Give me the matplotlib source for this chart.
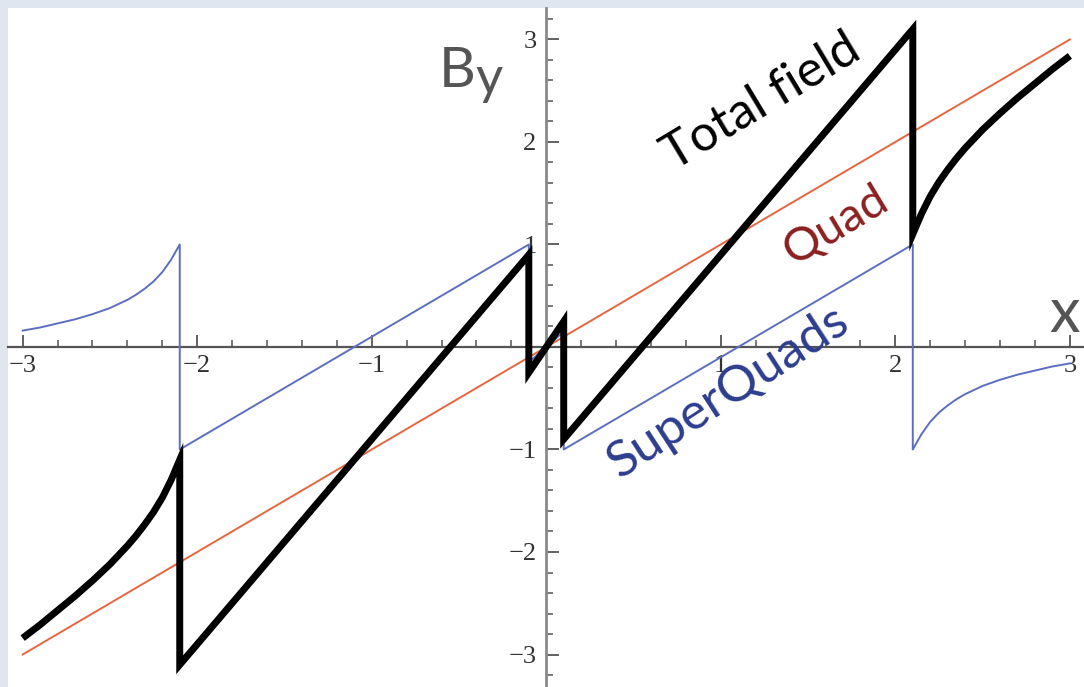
import numpy as np
import matplotlib
matplotlib.use("Agg")
import matplotlib.pyplot as plt
from matplotlib.ticker import MultipleLocator, FixedLocator

# field components along the x axis (values read at the marked x positions)
quad_x = [-3.0, 3.0]
quad_y = [-3.0, 3.0]

superquad_x = [-3.0, -2.9, -2.8, -2.7, -2.6, -2.5, -2.4, -2.35, -2.3, -2.25, -2.2,
               -2.15, -2.1, -2.1, -0.1, -0.1, 0.1, 0.1, 2.1, 2.1, 2.15, 2.2,
               2.25, 2.3, 2.35, 2.4, 2.5, 2.6, 2.7, 2.8, 2.9, 3.0]
superquad_y = [0.16, 0.19, 0.23, 0.27, 0.32, 0.38, 0.46, 0.51, 0.57, 0.64, 0.73,
               0.85, 1.0, -1.0, 1.0, -0.15, 0.15, -1.0, 1.0, -1.0, -0.85, -0.73,
               -0.64, -0.57, -0.51, -0.46, -0.38, -0.32, -0.27, -0.23, -0.19, -0.16]

total_x = superquad_x
total_y = [-2.84, -2.71, -2.57, -2.43, -2.28, -2.12, -1.94, -1.84, -1.73, -1.61, -1.47,
           -1.30, -1.1, -3.1, 0.9, -0.25, 0.25, -0.9, 3.1, 1.1, 1.30, 1.47,
           1.61, 1.73, 1.84, 1.94, 2.12, 2.28, 2.43, 2.57, 2.71, 2.84]

x_ticks = [-3, -2, -1, 1, 2, 3]
y_ticks = [-3, -2, -1, 1, 2, 3]

W, H = 1084, 687
fig = plt.figure(figsize=(W / 100, H / 100), dpi=100, facecolor="#dfe6ef")
ax = fig.add_axes([8 / W, 0, (W - 8) / W, (H - 8) / H])
ax.set_facecolor("white")

ax.plot(quad_x, quad_y, color="#e8663f", lw=1.4, zorder=3)
ax.plot(superquad_x, superquad_y, color="#5b6fc0", lw=1.4, zorder=3)
ax.plot(total_x, total_y, color="black", lw=5.0, zorder=4,
        solid_joinstyle="miter", solid_capstyle="butt")

ax.set_xlim(-3.084, 3.081)
ax.set_ylim(-3.317, 3.307)

# axes through the origin
for side in ["top", "right"]:
    ax.spines[side].set_visible(False)
ax.spines["left"].set_position("zero")
ax.spines["bottom"].set_position("zero")
ax.spines["left"].set_color("#8a8a8a")
ax.spines["left"].set_linewidth(2.0)
ax.spines["bottom"].set_color("#555555")
ax.spines["bottom"].set_linewidth(1.6)
ax.spines["left"].set_zorder(2)
ax.spines["bottom"].set_zorder(2)

ax.xaxis.set_major_locator(FixedLocator(x_ticks))
ax.yaxis.set_major_locator(FixedLocator(y_ticks))
ax.xaxis.set_minor_locator(MultipleLocator(0.2))
ax.yaxis.set_minor_locator(MultipleLocator(0.2))
ax.set_xticklabels([f"{v:d}".replace("-", "\u2212") for v in x_ticks])
ax.set_yticklabels([f"{v:d}".replace("-", "\u2212") for v in y_ticks])

ax.tick_params(axis="both", which="major", direction="in", length=9, width=1.3,
               color="#555555", labelsize=19, labelcolor="#333333",
               labelfontfamily="Liberation Serif")
ax.tick_params(axis="both", which="minor", direction="in", length=5, width=1.1,
               color="#555555")
ax.tick_params(axis="x", which="major", pad=6)
ax.tick_params(axis="y", which="major", pad=7)

# axis names
fig.text(439 / W, 1 - 87 / H, "B", fontsize=41, color="#555555",
         family="Lato", ha="left", va="baseline")
fig.text(475 / W, 1 - 94 / H, "y", fontsize=38, color="#555555",
         family="Lato", ha="left", va="baseline")
fig.text(1049 / W, 1 - 332 / H, "x", fontsize=44, color="#555555",
         family="Lato", ha="left", va="baseline")

# curve labels
fig.text(762 / W, 1 - 102 / H, "Total field", fontsize=36, color="black",
         family="Lato", rotation=31, rotation_mode="anchor",
         ha="center", va="center")
fig.text(836 / W, 1 - 225 / H, "Quad", fontsize=34, color="#8b1f1f",
         family="Lato", rotation=31, rotation_mode="anchor",
         ha="center", va="center")
fig.text(728 / W, 1 - 392 / H, "SuperQuads", fontsize=37, color="#2c3d8f",
         family="Lato", rotation=33, rotation_mode="anchor",
         ha="center", va="center")

fig.savefig("out.png", dpi=100, facecolor=fig.get_facecolor())
